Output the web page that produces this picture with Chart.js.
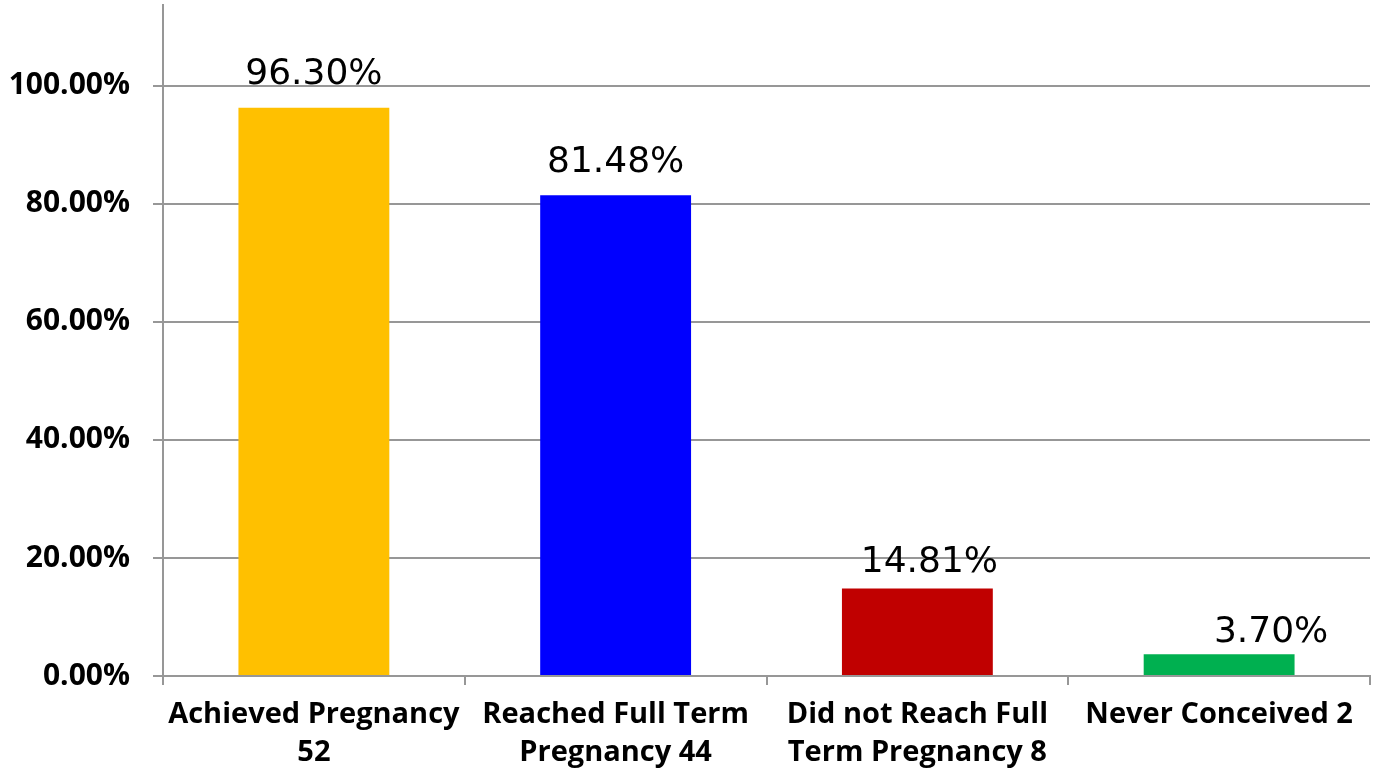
<!DOCTYPE html>
<html>
<head>
<meta charset="utf-8">
<title>Pregnancy outcomes</title>
<script src="https://cdn.jsdelivr.net/npm/chart.js@4.4.1/dist/chart.umd.min.js"></script>
<style>
    html, body { margin: 0; padding: 0; background: #ffffff; }
    #wrap { width: 1374px; height: 772px; position: relative; }
</style>
</head>
<body>
<div id="wrap"><canvas id="outcomeChart"></canvas></div>
<script>
// Số liệu biểu đồ
const categories = [
    ["Achieved Pregnancy", "52"],
    ["Reached Full Term", "Pregnancy 44"],
    ["Did not Reach Full", "Term Pregnancy 8"],
    ["Never Conceived 2"]
];
const percentages = [0.9630, 0.8148, 0.1481, 0.0370];
const yTickValues = [0, 0.2, 0.4, 0.6, 0.8, 1.0];

const barColors = ["#FFC000", "#0000FF", "#C00000", "#00B050"];
const gridGray = "#979797";

function pct(v) {
    return (v * 100).toFixed(2) + "%";
}

// Vẽ nhãn giá trị phía trên mỗi cột (dịch nhẹ từng nhãn)
const valueLabels = {
    id: "valueLabels",
    afterDatasetsDraw(chart) {
        const ctx = chart.ctx;
        const meta = chart.getDatasetMeta(0);
        const shiftX = [0, 0, 12, 52];
        const gap = [24, 23, 17, 12];
        ctx.save();
        ctx.font = "36px 'DejaVu Sans'";
        ctx.fillStyle = "#000000";
        ctx.textAlign = "center";
        ctx.textBaseline = "alphabetic";
        meta.data.forEach((bar, i) => {
            ctx.fillText(pct(percentages[i]), bar.x + shiftX[i], bar.y - gap[i]);
        });
        ctx.restore();
    }
};

const ctx = document.getElementById("outcomeChart").getContext("2d");
new Chart(ctx, {
    type: "bar",
    data: {
        labels: categories,
        datasets: [{
            data: percentages,
            backgroundColor: barColors,
            borderWidth: 0,
            barPercentage: 0.5,
            categoryPercentage: 1.0
        }]
    },
    options: {
        responsive: true,
        maintainAspectRatio: false,
        animation: false,
        devicePixelRatio: 1,
        layout: { padding: { top: 5, right: 4, bottom: 0, left: 0 } },
        plugins: {
            legend: { display: false },
            tooltip: { enabled: false }
        },
        scales: {
            x: {
                grid: {
                    offset: true,
                    drawOnChartArea: false,
                    drawTicks: true,
                    tickLength: 9,
                    color: gridGray,
                    lineWidth: 2
                },
                border: { display: true, color: gridGray, width: 2 },
                ticks: {
                    color: "#000000",
                    font: { family: "'Open Sans'", weight: "bold", size: 29, lineHeight: "38px" },
                    padding: 11,
                    maxRotation: 0,
                    autoSkip: false
                },
                afterFit(scale) {
                    scale.height = 96;
                    scale.paddingLeft = 0;
                    scale.paddingRight = 0;
                }
            },
            y: {
                min: 0,
                max: 1.137,
                grid: {
                    color: gridGray,
                    lineWidth: 2,
                    drawTicks: true,
                    tickLength: 10
                },
                border: { display: true, color: gridGray, width: 2 },
                ticks: {
                    color: "#000000",
                    font: { family: "'Open Sans'", weight: "bold", size: 30 },
                    padding: 23,
                    callback: (v) => pct(v)
                },
                afterBuildTicks(scale) {
                    scale.ticks = yTickValues.map(v => ({ value: v }));
                },
                afterFit(scale) {
                    scale.width = 163;
                    scale.paddingTop = 0;
                    scale.paddingBottom = 0;
                }
            }
        }
    },
    plugins: [valueLabels]
});
</script>
</body>
</html>
